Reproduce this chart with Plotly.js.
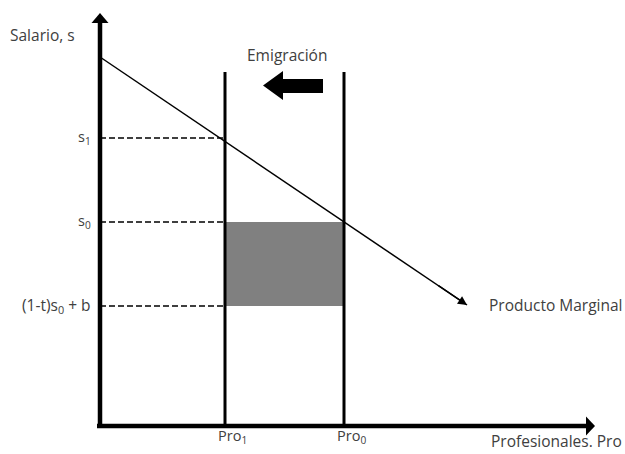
<!DOCTYPE html>
<html>
<head>
<meta charset="utf-8">
<script src="https://cdn.plot.ly/plotly-3.0.1.min.js"></script>
<style>html,body{margin:0;padding:0;background:#fff;}#chart{width:625px;height:454px;}</style>
</head>
<body>
<div id="chart"></div>
<script>
// Quantities of professionals (x) and wage levels (y)
const proLabels = ["Pro<sub>1</sub>", "Pro<sub>0</sub>"];
const proValues = [125, 244];            // Pro1, Pro0
const wageLabels = ["s<sub>1</sub>", "s<sub>0</sub>", "(1-t)s<sub>0</sub> + b"];
const wageValues = [288, 204, 120];      // s1, s0, (1-t)s0+b
// Marginal product line endpoints
const mpX = [0, 367];
const mpY = [369, 121];
const verticalTop = 354;
// Emigration block arrow (x from tip to tail, y extents)
const emigX = [163, 183, 223];
const emigHeadY = [326, 355];
const emigBodyY = [333, 347];
const axisTopY = 413;
const axisRightX = 495;

const ink = "#000";
const txt = "#404040";
const font = {family: "Open Sans, Liberation Sans, sans-serif", size: 15.5, color: txt};
const fontSmall = Object.assign({}, font, {size: 14.5});

const traces = [];
// vertical supply lines
proValues.forEach(p => {
  traces.push({x: [p, p], y: [0, verticalTop], mode: "lines", line: {color: ink, width: 3}, hoverinfo: "skip"});
});
// dashed wage guides
wageValues.forEach(w => {
  traces.push({x: [0, proValues[0]], y: [w, w], mode: "lines", line: {color: ink, width: 1.5, dash: "6px,3px"}, hoverinfo: "skip"});
});
// marginal product
traces.push({x: mpX, y: mpY, mode: "lines", line: {color: ink, width: 1.5}, hoverinfo: "skip"});

const shapes = [
  // shaded rectangle
  {type: "rect", xref: "x", yref: "y", x0: proValues[0], x1: proValues[1], y0: wageValues[2], y1: wageValues[1],
   fillcolor: "#808080", line: {width: 0}, layer: "below"},
  // y axis
  {type: "line", xref: "x", yref: "y", x0: 0, x1: 0, y0: -2, y1: axisTopY - 9, line: {color: ink, width: 4.5}},
  {type: "path", xref: "x", yref: "y", path: `M -8.5 ${axisTopY-10} L 8.5 ${axisTopY-10} L 0 ${axisTopY} Z`, fillcolor: ink, line: {width: 0}},
  // x axis
  {type: "line", xref: "x", yref: "y", x0: -3, x1: axisRightX - 8, y0: 0, y1: 0, line: {color: ink, width: 4.5}},
  {type: "path", xref: "x", yref: "y", path: `M ${axisRightX-9} -9.5 L ${axisRightX-9} 9.5 L ${axisRightX} 0 Z`, fillcolor: ink, line: {width: 0}},
  // emigration block arrow
  {type: "path", xref: "x", yref: "y",
   path: `M ${emigX[0]} ${(emigHeadY[0]+emigHeadY[1])/2} L ${emigX[1]} ${emigHeadY[1]} L ${emigX[1]} ${emigBodyY[1]} L ${emigX[2]} ${emigBodyY[1]} L ${emigX[2]} ${emigBodyY[0]} L ${emigX[1]} ${emigBodyY[0]} L ${emigX[1]} ${emigHeadY[0]} Z`,
   fillcolor: ink, line: {width: 0}}
];

const annotations = [
  {x: -92, y: 391, text: "Salario, s", xanchor: "left", yanchor: "middle", showarrow: false, font},
  {x: 187, y: 371, text: "Emigración", xanchor: "center", yanchor: "middle", showarrow: false, font},
  {x: 389, y: -15, text: "Profesionales. Pro", xanchor: "left", yanchor: "middle", showarrow: false, font},
  {x: 387, y: mpY[1], text: "Producto Marginal", xanchor: "left", yanchor: "middle", showarrow: false, font},
  // arrowhead at end of marginal product line
  {x: mpX[1], y: mpY[1], ax: mpX[1] - 30, ay: mpY[1] + 30 * (mpY[0]-mpY[1])/(mpX[1]-mpX[0]), axref: "x", ayref: "y", xref: "x", yref: "y",
   text: "", showarrow: true, arrowhead: 2, arrowsize: 1.2, arrowwidth: 1.5, arrowcolor: ink, standoff: 0}
];
wageLabels.forEach((t, i) => {
  annotations.push({x: -7, y: wageValues[i] + 1, text: t, xanchor: "right", yanchor: "middle", showarrow: false, font: i < 2 ? fontSmall : font});
});
proLabels.forEach((t, i) => {
  annotations.push({x: proValues[i] + 7, y: -10, text: t, xanchor: "center", yanchor: "middle", showarrow: false, font: fontSmall});
});

const layout = {
  width: 625, height: 454,
  margin: {l: 0, r: 0, t: 0, b: 0},
  paper_bgcolor: "#fff", plot_bgcolor: "#fff",
  showlegend: false,
  xaxis: {range: [-100, 525], visible: false, fixedrange: true},
  yaxis: {range: [-28, 426], visible: false, fixedrange: true},
  shapes, annotations
};
Plotly.newPlot("chart", traces, layout, {displayModeBar: false, staticPlot: true});
</script>
</body>
</html>
